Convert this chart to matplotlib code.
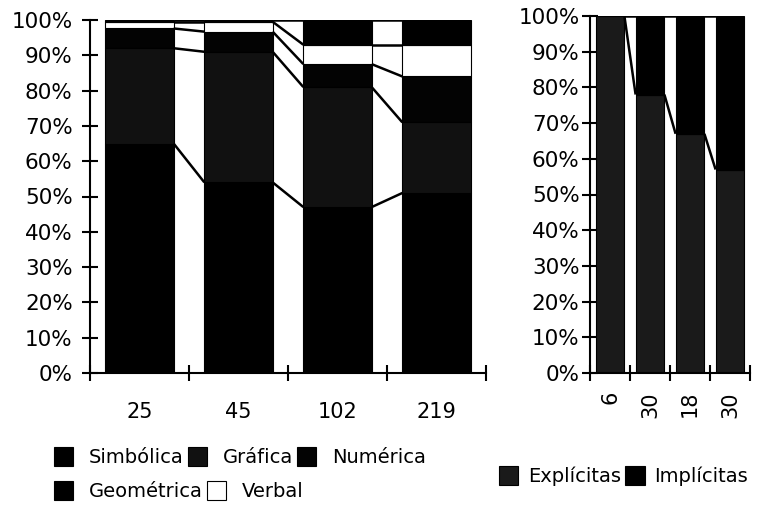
import matplotlib
matplotlib.use('Agg')
import matplotlib.pyplot as plt
import numpy as np

plt.rcParams['font.family'] = 'DejaVu Sans'

# left chart: number of items per group and share of each representation
groups = ['25', '45', '102', '219']
series_left = ['Simbólica', 'Gráfica', 'Numérica', 'Verbal', 'Geométrica']
simbolica = [65, 54, 47, 51]
grafica = [27, 37, 34, 20]
numerica = [5.6, 5.7, 6.5, 13]
verbal = [1.9, 2.8, 5.5, 9]
geometrica = [0.5, 0.5, 7, 7]
colors_left = ['#000000', '#111111', '#030303', '#ffffff', '#000000']

# right chart
groups_right = ['6', '30', '18', '30']
series_right = ['Explícitas', 'Implícitas']
explicitas = [100, 78, 67, 57]
implicitas = [0, 22, 33, 43]
colors_right = ['#1a1a1a', '#000000']

W, H = 759, 508
fig = plt.figure(figsize=(W / 100, H / 100), dpi=100)


def px_axes(x0, x1, ytop, ybot):
    return fig.add_axes([x0 / W, 1 - ybot / H, (x1 - x0) / W, (ybot - ytop) / H])


def stacked(ax, labels, data, names, colors, width):
    x = np.arange(len(labels))
    bottom = np.zeros(len(labels))
    handles = {}
    tops = []
    for vals, name, c in zip(data, names, colors):
        vals = np.array(vals, dtype=float)
        b = ax.bar(x, vals, width, bottom=bottom, color=c, edgecolor='black',
                   linewidth=0.8, label=name, zorder=2)
        handles[name] = b
        bottom = bottom + vals
        tops.append(bottom.copy())
    # series lines between bars
    for top in tops:
        for i in range(len(x) - 1):
            ax.plot([x[i] + width / 2, x[i + 1] - width / 2], [top[i], top[i + 1]],
                    color='black', lw=1.8, zorder=3, solid_capstyle='butt')
    ax.set_xlim(-0.5, len(labels) - 0.5)
    ax.set_ylim(0, 100)
    ax.set_yticks(np.arange(0, 101, 10))
    ax.set_yticklabels([f'{v}%' for v in range(0, 101, 10)])
    ax.set_xticks(np.arange(-0.5, len(labels), 1.0))
    ax.set_xticklabels([])
    ax.set_xticks(x, minor=True)
    for s in ['top', 'right']:
        ax.spines[s].set_visible(False)
    for s in ['left', 'bottom']:
        ax.spines[s].set_linewidth(1.5)
    ax.tick_params(axis='both', which='major', direction='inout', length=11, width=1.5,
                   labelsize=15.5)
    ax.tick_params(axis='x', which='minor', length=0)
    return handles


ax1 = px_axes(90, 486, 20, 373)
h1 = stacked(ax1, groups, [simbolica, grafica, numerica, verbal, geometrica],
             series_left, colors_left, 0.69)
ax1.set_xticklabels(groups, minor=True, fontsize=15)
ax1.tick_params(axis='x', which='minor', pad=21)
ax1.tick_params(axis='y', pad=7)

ax2 = px_axes(590, 750, 16, 373)
h2 = stacked(ax2, groups_right, [explicitas, implicitas], series_right, colors_right, 0.72)
ax2.set_xticklabels(groups_right, minor=True, fontsize=15, rotation=90, va='top')
ax2.tick_params(axis='x', which='minor', pad=13)
ax2.tick_params(axis='y', pad=2)

leg_kw = dict(frameon=False, fontsize=14, handlelength=1.0, handleheight=1.1,
              columnspacing=0.2, borderaxespad=0, borderpad=0)
row1 = ['Simbólica', 'Gráfica', 'Numérica']
row2 = ['Geométrica', 'Verbal']
fig.legend([h1[n] for n in row1], row1, ncol=3, loc='center left', handletextpad=0.8,
           bbox_to_anchor=(54 / W, 1 - 457 / H), **leg_kw)
fig.legend([h1[n] for n in row2], row2, ncol=2, loc='center left', handletextpad=0.8,
           bbox_to_anchor=(54 / W, 1 - 491 / H), **leg_kw)
fig.legend([h2[n] for n in series_right], series_right, ncol=2, loc='center left',
           handletextpad=0.5, bbox_to_anchor=(499 / W, 1 - 476 / H), **leg_kw)

fig.savefig('out.png', dpi=100)
